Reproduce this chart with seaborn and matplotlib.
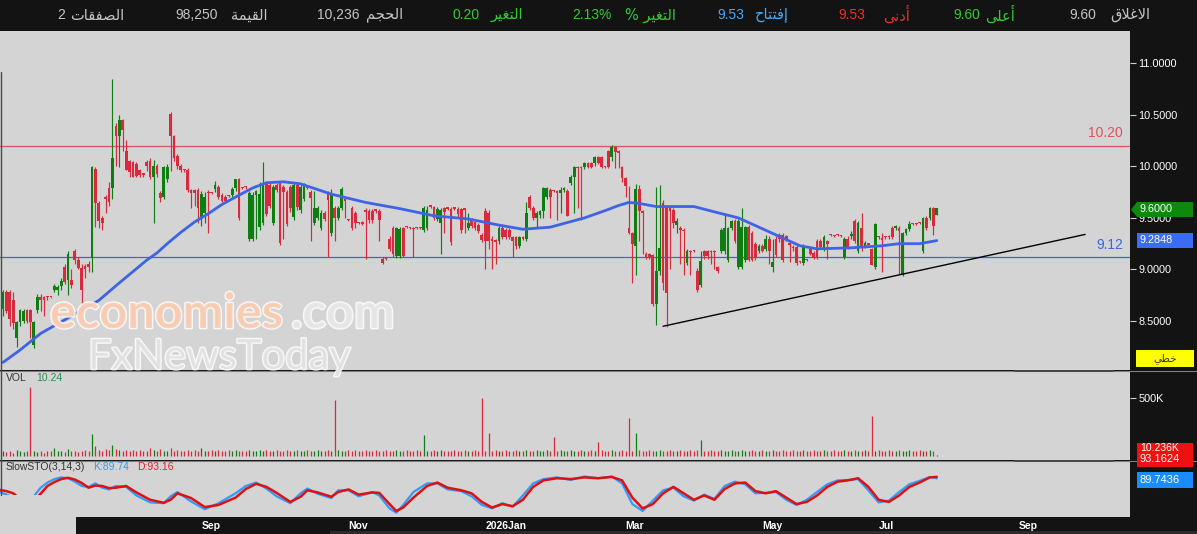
import numpy as np
import pandas as pd
import seaborn as sns
import matplotlib.pyplot as plt
import matplotlib.patheffects as pe
from matplotlib.patches import Rectangle, Polygon
from matplotlib.lines import Line2D

# daily candles (one per trading day, oldest first)
opens = [
    8.62, 8.78, 8.78, 8.70, 8.34, 8.49, 8.50, 8.61, 8.61, 8.27,
    8.61, 8.73, 8.73, 8.73, 8.73, 8.80, 8.80, 8.84, 9.02, 8.90,
    8.90, 9.18, 9.09, 9.01, 9.03, 9.05, 9.11, 9.97, 9.64, 9.50,
    9.70, 9.79, 9.79, 10.39, 10.29, 10.45, 10.15, 10.05, 10.04, 10.02,
    9.96, 9.92, 10.04, 10.05, 9.90, 10.00, 9.74, 9.70, 9.88, 10.51,
    10.29, 10.10, 10.00, 9.97, 9.96, 9.77, 9.77, 9.77, 9.50, 9.55,
    9.75, 9.74, 9.78, 9.80, 9.72, 9.70, 9.71, 9.72, 9.79, 9.88,
    9.79, 9.80, 9.30, 9.30, 9.72, 9.41, 9.45, 9.84, 9.82, 9.45,
    9.82, 9.84, 9.80, 9.75, 9.80, 9.51, 9.82, 9.58, 9.68, 9.79,
    9.75, 9.45, 9.50, 9.40, 9.55, 9.75, 9.35, 9.60, 9.50, 9.60,
    9.68, 9.48, 9.60, 9.55, 9.45, 9.46, 9.58, 9.57, 9.57, 9.57,
    9.57, 9.10, 9.10, 9.30, 9.40, 9.13, 9.13, 9.40, 9.41, 9.40,
    9.40, 9.40, 9.40, 9.38, 9.40, 9.61, 9.61, 9.49, 9.45, 9.60,
    9.59, 9.59, 9.59, 9.59, 9.59, 9.59, 9.40, 9.48, 9.46, 9.43,
    9.33, 9.57, 9.55, 9.30, 9.28, 9.28, 9.40, 9.38, 9.38, 9.31,
    9.31, 9.23, 9.31, 9.30, 9.70, 9.60, 9.50, 9.53, 9.57, 9.70,
    9.77, 9.76, 9.76, 9.74, 9.77, 9.76, 9.84, 9.90, 9.99, 9.99,
    9.99, 10.03, 10.03, 10.03, 10.09, 10.09, 9.99, 10.15, 10.09, 10.19,
    10.15, 9.99, 9.89, 9.40, 9.35, 9.23, 9.78, 9.57, 9.15, 9.15,
    9.14, 8.67, 8.99, 9.64, 9.60, 9.60, 9.58, 9.43, 9.40, 9.38,
    9.06, 9.18, 9.18, 8.99, 8.85, 9.18, 9.18, 9.18, 9.18, 9.02,
    9.18, 9.18, 9.09, 9.40, 9.47, 9.02, 9.02, 9.09, 9.41, 9.35,
    9.25, 9.18, 9.23, 9.20, 9.30, 9.02, 9.30, 9.33, 9.33, 9.32,
    9.25, 9.22, 9.22, 9.07, 9.06, 9.09, 9.20, 9.16, 9.28, 9.28,
    9.20, 9.28, 9.33, 9.32, 9.33, 9.32, 9.12, 9.30, 9.32, 9.47,
    9.18, 9.40, 9.23, 9.24, 9.20, 9.02, 9.31, 9.30, 9.31, 9.32,
    9.40, 9.40, 9.40, 8.96, 9.35, 9.39, 9.44, 9.44, 9.45, 9.18,
    9.50, 9.50, 9.60, 9.53,
]
highs = [
    8.80, 8.80, 8.80, 8.78, 8.50, 8.62, 8.62, 8.62, 8.62, 8.50,
    8.76, 8.76, 8.74, 8.74, 8.73, 8.86, 8.85, 8.92, 9.05, 9.18,
    9.00, 9.20, 9.12, 9.05, 9.05, 9.08, 10.00, 9.99, 9.66, 9.52,
    9.72, 9.85, 10.85, 10.42, 10.50, 10.46, 10.25, 10.06, 10.05, 10.04,
    9.97, 9.93, 10.06, 10.08, 10.06, 10.02, 9.76, 10.00, 10.02, 10.53,
    10.30, 10.12, 10.02, 9.97, 9.98, 9.78, 9.78, 9.79, 9.76, 9.75,
    9.77, 9.75, 9.86, 9.82, 9.74, 9.72, 9.72, 9.80, 9.88, 9.89,
    9.80, 9.81, 9.76, 9.75, 9.77, 9.85, 10.04, 9.86, 9.84, 9.82,
    9.84, 9.86, 9.82, 9.77, 9.82, 9.84, 9.84, 9.82, 9.84, 9.80,
    9.77, 9.76, 9.62, 9.58, 9.57, 9.76, 9.78, 9.62, 9.62, 9.80,
    9.70, 9.49, 9.62, 9.57, 9.46, 9.47, 9.60, 9.59, 9.59, 9.58,
    9.59, 9.12, 9.12, 9.32, 9.42, 9.41, 9.41, 9.41, 9.42, 9.41,
    9.41, 9.41, 9.41, 9.62, 9.62, 9.62, 9.62, 9.61, 9.60, 9.61,
    9.60, 9.61, 9.60, 9.61, 9.60, 9.60, 9.55, 9.50, 9.48, 9.45,
    9.35, 9.60, 9.58, 9.32, 9.30, 9.42, 9.42, 9.40, 9.40, 9.32,
    9.32, 9.32, 9.32, 9.65, 9.72, 9.62, 9.57, 9.58, 9.80, 9.80,
    9.79, 9.77, 9.77, 9.80, 9.80, 9.78, 9.92, 10.00, 10.00, 10.00,
    10.04, 10.04, 10.04, 10.10, 10.10, 10.10, 10.00, 10.16, 10.21, 10.20,
    10.16, 10.00, 9.90, 9.81, 9.36, 9.83, 9.82, 9.58, 9.17, 9.16,
    9.15, 9.80, 9.82, 9.67, 9.62, 9.62, 9.60, 9.50, 9.42, 9.40,
    9.20, 9.19, 9.19, 9.01, 9.18, 9.19, 9.19, 9.19, 9.19, 9.03,
    9.40, 9.55, 9.41, 9.48, 9.49, 9.49, 9.60, 9.42, 9.43, 9.37,
    9.27, 9.25, 9.25, 9.33, 9.32, 9.30, 9.32, 9.35, 9.35, 9.33,
    9.27, 9.24, 9.24, 9.08, 9.25, 9.10, 9.22, 9.18, 9.30, 9.30,
    9.33, 9.29, 9.34, 9.33, 9.34, 9.33, 9.31, 9.32, 9.37, 9.49,
    9.47, 9.55, 9.28, 9.25, 9.21, 9.45, 9.32, 9.35, 9.32, 9.33,
    9.42, 9.43, 9.42, 9.36, 9.40, 9.47, 9.45, 9.45, 9.46, 9.51,
    9.52, 9.61, 9.61, 9.60,
]
lows = [
    8.55, 8.58, 8.45, 8.42, 8.25, 8.45, 8.48, 8.48, 8.34, 8.24,
    8.58, 8.60, 8.55, 8.70, 8.72, 8.78, 8.75, 8.80, 8.86, 8.75,
    8.82, 9.05, 9.00, 8.67, 8.92, 8.98, 8.98, 9.41, 9.40, 9.38,
    9.55, 9.62, 9.68, 10.00, 9.99, 10.15, 9.96, 9.90, 9.90, 9.90,
    9.90, 9.90, 9.95, 9.88, 9.45, 9.90, 9.65, 9.68, 9.85, 9.95,
    10.05, 9.97, 9.94, 9.94, 9.75, 9.60, 9.62, 9.45, 9.42, 9.45,
    9.35, 9.73, 9.75, 9.68, 9.65, 9.64, 9.70, 9.70, 9.76, 9.48,
    9.78, 9.78, 9.28, 9.28, 9.30, 9.38, 9.43, 9.52, 9.60, 9.43,
    9.75, 9.24, 9.30, 9.42, 9.56, 9.48, 9.58, 9.55, 9.66, 9.78,
    9.28, 9.43, 9.48, 9.38, 9.47, 9.12, 9.32, 9.28, 9.48, 9.58,
    9.50, 9.47, 9.38, 9.40, 9.44, 9.43, 9.10, 9.45, 9.45, 9.55,
    9.28, 9.05, 9.09, 9.18, 9.12, 9.11, 9.11, 9.12, 9.40, 9.39,
    9.12, 9.39, 9.39, 9.36, 9.38, 9.60, 9.48, 9.47, 9.15, 9.35,
    9.58, 9.24, 9.58, 9.50, 9.35, 9.35, 9.38, 9.40, 9.38, 9.35,
    9.27, 9.00, 9.20, 9.00, 9.05, 9.25, 9.30, 9.30, 9.30, 9.12,
    9.20, 9.21, 9.29, 9.28, 9.58, 9.48, 9.40, 9.50, 9.50, 9.68,
    9.50, 9.75, 9.48, 9.55, 9.75, 9.52, 9.82, 9.55, 9.60, 9.48,
    9.97, 9.98, 9.98, 10.00, 10.02, 9.98, 9.98, 9.98, 10.05, 9.98,
    9.98, 9.85, 9.70, 9.34, 8.87, 8.95, 9.28, 9.15, 9.10, 9.10,
    8.65, 8.46, 8.95, 8.80, 8.44, 9.00, 9.40, 9.35, 9.05, 8.95,
    9.04, 8.95, 9.17, 8.78, 8.83, 9.10, 9.10, 9.05, 9.00, 8.97,
    9.16, 9.15, 9.07, 9.38, 9.26, 9.00, 9.00, 9.07, 9.08, 9.08,
    9.09, 9.16, 9.17, 9.18, 9.05, 8.98, 9.12, 9.27, 9.07, 9.28,
    9.07, 9.18, 9.04, 9.06, 9.04, 9.08, 9.14, 9.10, 9.10, 9.20,
    9.18, 9.10, 9.32, 9.31, 9.32, 9.31, 9.10, 9.20, 9.30, 9.26,
    9.16, 9.18, 9.21, 9.23, 9.04, 9.00, 9.30, 8.98, 9.30, 9.30,
    9.30, 9.38, 8.96, 8.94, 9.33, 9.37, 9.43, 9.43, 9.44, 9.16,
    9.38, 9.48, 9.33, 9.53,
]
closes = [
    8.78, 8.60, 8.52, 8.48, 8.49, 8.61, 8.60, 8.50, 8.49, 8.49,
    8.73, 8.70, 8.70, 8.73, 8.73, 8.84, 8.83, 8.89, 8.88, 9.15,
    8.85, 9.09, 9.01, 8.80, 9.00, 9.02, 9.99, 9.64, 9.47, 9.45,
    9.68, 9.65, 10.08, 10.29, 10.45, 10.35, 9.96, 9.94, 9.90, 9.91,
    9.92, 9.92, 10.00, 9.90, 10.00, 9.93, 9.69, 9.99, 9.99, 10.29,
    10.08, 10.00, 9.96, 9.96, 9.77, 9.74, 9.74, 9.60, 9.73, 9.70,
    9.74, 9.74, 9.82, 9.70, 9.66, 9.66, 9.71, 9.78, 9.88, 9.50,
    9.79, 9.80, 9.74, 9.72, 9.76, 9.73, 9.84, 9.54, 9.62, 9.80,
    9.77, 9.26, 9.75, 9.44, 9.60, 9.82, 9.61, 9.80, 9.82, 9.79,
    9.69, 9.60, 9.60, 9.55, 9.49, 9.67, 9.73, 9.50, 9.60, 9.78,
    9.66, 9.48, 9.40, 9.45, 9.45, 9.44, 9.56, 9.48, 9.48, 9.57,
    9.48, 9.06, 9.10, 9.20, 9.15, 9.40, 9.39, 9.13, 9.41, 9.40,
    9.39, 9.40, 9.40, 9.60, 9.58, 9.61, 9.50, 9.59, 9.58, 9.56,
    9.59, 9.27, 9.59, 9.54, 9.38, 9.58, 9.45, 9.42, 9.40, 9.37,
    9.29, 9.28, 9.28, 9.28, 9.27, 9.40, 9.31, 9.31, 9.31, 9.28,
    9.23, 9.31, 9.30, 9.55, 9.60, 9.50, 9.55, 9.57, 9.79, 9.79,
    9.70, 9.76, 9.74, 9.77, 9.79, 9.52, 9.90, 9.99, 9.98, 9.98,
    10.03, 9.99, 9.99, 10.09, 10.03, 9.99, 9.99, 9.99, 10.19, 10.14,
    10.13, 9.89, 9.81, 9.35, 9.25, 9.78, 9.57, 9.55, 9.12, 9.12,
    8.67, 8.99, 9.21, 8.87, 8.77, 9.57, 9.45, 9.47, 9.38, 9.37,
    9.18, 9.17, 9.18, 8.80, 9.08, 9.13, 9.13, 9.17, 9.17, 8.99,
    9.38, 9.40, 9.40, 9.47, 9.28, 9.47, 9.41, 9.41, 9.09, 9.09,
    9.12, 9.23, 9.18, 9.30, 9.18, 9.07, 9.14, 9.30, 9.09, 9.30,
    9.24, 9.21, 9.06, 9.07, 9.23, 9.09, 9.15, 9.11, 9.12, 9.22,
    9.31, 9.25, 9.33, 9.32, 9.33, 9.32, 9.30, 9.22, 9.34, 9.28,
    9.45, 9.22, 9.26, 9.24, 9.04, 9.44, 9.31, 9.29, 9.31, 9.31,
    9.31, 9.42, 9.37, 9.35, 9.39, 9.44, 9.44, 9.44, 9.45, 9.50,
    9.40, 9.60, 9.42, 9.60,
]
# volume in thousands of shares
volumes_k = [
    40, 35, 45, 30, 50, 40, 35, 45, 595, 40,
    35, 40, 30, 45, 40, 70, 40, 45, 35, 60,
    40, 45, 35, 40, 50, 45, 190, 85, 55, 45,
    60, 50, 95, 60, 55, 45, 50, 40, 55, 45,
    50, 40, 45, 70, 50, 40, 60, 45, 40, 70,
    45, 50, 40, 45, 55, 40, 50, 45, 70, 40,
    45, 50, 40, 55, 45, 40, 50, 45, 55, 40,
    45, 40, 50, 45, 40, 55, 45, 50, 40, 45,
    50, 45, 40, 55, 45, 40, 50, 45, 40, 55,
    45, 40, 50, 45, 40, 55, 45, 480, 50, 45,
    40, 50, 45, 55, 40, 45, 50, 40, 45, 55,
    40, 45, 50, 40, 45, 55, 40, 45, 50, 40,
    45, 50, 40, 180, 45, 40, 50, 45, 55, 40,
    45, 40, 50, 45, 40, 55, 45, 40, 50, 45,
    500, 45, 200, 40, 55, 45, 40, 50, 45, 40,
    55, 45, 40, 50, 45, 40, 55, 45, 40, 50,
    45, 160, 40, 55, 45, 40, 50, 45, 40, 55,
    45, 40, 50, 45, 120, 55, 40, 45, 50, 40,
    45, 55, 40, 330, 45, 200, 50, 40, 45, 55,
    40, 45, 50, 40, 45, 55, 40, 45, 50, 40,
    45, 50, 40, 55, 140, 40, 45, 50, 40, 45,
    55, 40, 45, 50, 40, 45, 55, 40, 45, 50,
    40, 45, 55, 40, 45, 50, 40, 45, 55, 40,
    45, 50, 40, 45, 55, 40, 45, 50, 40, 45,
    55, 40, 45, 50, 40, 45, 55, 40, 45, 50,
    40, 45, 55, 40, 345, 45, 50, 40, 45, 55,
    40, 45, 50, 40, 45, 55, 40, 45, 50, 40,
    45, 55, 40, 10,
]

# moving average (blue), read at these candle positions
ma_idx = [0, 5, 11, 19, 28, 34, 42, 45, 48, 52, 56, 60, 64, 69, 73, 77, 82, 87, 96, 106,
          116, 126, 136, 145, 152, 160, 170, 176, 180, 183, 186, 191, 202, 209, 215, 223,
          233, 238, 248, 257, 262, 268, 273]
ma_val = [8.10, 8.22, 8.38, 8.53, 8.70, 8.87, 9.09, 9.16, 9.25, 9.36, 9.46, 9.54, 9.63,
          9.72, 9.79, 9.84, 9.85, 9.83, 9.73, 9.65, 9.59, 9.52, 9.49, 9.43, 9.39, 9.41,
          9.50, 9.57, 9.62, 9.65, 9.64, 9.61, 9.61, 9.55, 9.50, 9.38, 9.23, 9.20, 9.21,
          9.23, 9.25, 9.25, 9.28]

# slow stochastic, read at these candle positions
sto_idx = [-1, 1, 3, 5, 7, 9, 11, 13, 15, 17, 19, 21, 23, 25, 27, 29, 31, 33, 36, 39,
           43, 47, 49, 51, 55, 59, 63, 68, 71, 74, 77, 80, 84, 87, 89, 92, 96, 98, 101,
           104, 108, 110, 113, 115, 117, 120, 124, 127, 130, 134, 137, 140, 143, 146,
           149, 152, 155, 158, 162, 166, 170, 174, 178, 181, 184, 187, 190, 193, 196,
           199, 202, 205, 208, 211, 214, 217, 220, 223, 226, 229, 232, 235, 238, 241,
           244, 247, 250, 253, 256, 259, 262, 265, 268, 271, 273]
sto_d = [63, 60, 55, 42, 32, 38, 54, 72, 81, 88, 91, 87, 79, 68, 73, 72, 67, 68, 72, 57,
         40, 33, 40, 55, 44, 23, 28, 45, 65, 77, 70, 56, 35, 47, 62, 57, 47, 58, 64,
         52, 57, 56, 30, 14, 22, 45, 72, 80, 68, 62, 55, 35, 22, 30,
         25, 40, 70, 85, 90, 88, 92, 90, 93, 85, 45, 20, 30, 55, 70,
         55, 40, 50, 40, 65, 78, 80, 60, 55, 60, 45, 30, 35, 50, 70,
         82, 85, 90, 70, 40, 35, 50, 70, 80, 92, 93.16]
sto_k = [58, 52, 45, 30, 28, 48, 68, 80, 88, 92, 90, 82, 72, 70, 78, 68, 64, 72, 70, 50,
         34, 32, 48, 58, 36, 18, 32, 55, 72, 80, 66, 48, 32, 55, 66, 54, 44, 62, 62,
         48, 58, 50, 20, 10, 28, 58, 78, 78, 64, 60, 48, 28, 20, 32,
         24, 50, 78, 88, 92, 86, 94, 90, 94, 78, 30, 14, 38, 62, 68,
         48, 38, 52, 42, 72, 82, 76, 55, 56, 58, 40, 28, 40, 58, 76,
         85, 86, 88, 62, 34, 38, 58, 76, 84, 93, 89.74]

month_pos = [58, 101, 141, 182, 222, 256, 297]
month_labels = ['Sep', 'Nov', '2026Jan', 'Mar', 'May', 'Jul', 'Sep']

resistance = 10.20
support = 9.12
trend_idx = [193, 316.4]
trend_val = [8.45, 9.34]

# header (Arabic words in shaped presentation forms, visual order)
hdr_names = ['\uFED5\uFEFC\uFECF\uFEFB\uFE8D',              # الاغلاق
             '\uFEF0\uFEE0\uFECB\uFE83',                    # أعلى
             '\uFEF0\uFEE7\uFEA9\uFE83',                    # أدنى
             '\uFEA1\uFE8E\uFE98\uFE98\uFED3\uFE87',        # إفتتاح
             '% \uFEAE\uFEF4\uFED0\uFE98\uFEDF\uFE8D',      # التغير %
             '\uFEAE\uFEF4\uFED0\uFE98\uFEDF\uFE8D',        # التغير
             '\uFEE2\uFEA0\uFEA4\uFEDF\uFE8D',              # الحجم
             '\uFE94\uFEE4\uFEF4\uFED8\uFEDF\uFE8D',        # القيمة
             '\uFE95\uFE8E\uFED8\uFED4\uFEBC\uFEDF\uFE8D']  # الصفقات
hdr_values = ['9.60', '9.60', '9.53', '9.53', '2.13%', '0.20', '10,236', '98,250', '2']
LINE_LABEL = '\uFEF2\uFEC4\uFEA7'  # خطي

sns.set_style('white')
plt.rcParams['font.family'] = ['Liberation Sans', 'DejaVu Sans']

W, H = 1197, 534
BG = '#d4d4d4'
DARK = '#131313'
UP = '#0e7d12'
DOWN = '#d82a3c'
GRAY_TXT = '#c4c4c4'
GREEN_TXT = '#35c935'
RED_TXT = '#e8302c'
BLUE_TXT = '#4aa8f0'

fig = plt.figure(figsize=(W / 100, H / 100), dpi=100, facecolor=DARK)


def rect(x0, y0, x1, y1):
    return [x0 / W, 1 - y1 / H, (x1 - x0) / W, (y1 - y0) / H]


def fx(x):
    return x / W


def fy(y):
    return 1 - y / H


ax_p = fig.add_axes(rect(0, 31, 1130, 370))
ax_v = fig.add_axes(rect(0, 371, 1130, 460))
ax_s = fig.add_axes(rect(0, 461, 1130, 517))
for ax in (ax_p, ax_v, ax_s):
    ax.set_facecolor(BG)
    ax.set_xlim(-0.88, 329.5)
    for s in ax.spines.values():
        s.set_visible(False)

df = pd.DataFrame({'o': opens, 'h': highs, 'l': lows, 'c': closes, 'v': volumes_k})
df['i'] = np.arange(len(df))
df['col'] = np.where(df['c'] > df['o'], UP, DOWN)
body_lo = np.minimum(df['o'], df['c'])
body_h = np.maximum((df['c'] - df['o']).abs(), 0.012)

# price panel
ax_p.axhline(resistance, color='#e0525c', lw=0.9, zorder=1)
ax_p.axhline(support, color='#3a66e0', lw=0.9, zorder=1)
ax_p.vlines(df['i'], df['l'], df['h'], colors=df['col'], lw=0.85, zorder=2)
ax_p.bar(df['i'], body_h, bottom=body_lo, width=0.8, color=df['col'], linewidth=0, zorder=3)
sns.lineplot(x=ma_idx, y=ma_val, ax=ax_p, color='#3f63e6', lw=2.0, zorder=4)
ax_p.plot(trend_idx, trend_val, color='black', lw=1.0, zorder=4)
ax_p.set_ylim(8.026, 11.311)
ax_p.set_xticks([])
ax_p.set_xlabel('')
ax_p.set_ylabel('')
ax_p.yaxis.tick_right()
ax_p.set_yticks([8.5, 9.0, 9.5, 10.0, 10.5, 11.0])
ax_p.set_yticklabels([f'{v:.4f}' for v in [8.5, 9.0, 9.5, 10.0, 10.5, 11.0]])
ax_p.tick_params(axis='y', colors='#cfcfcf', labelcolor='white', length=4.5, width=0.8,
                 labelsize=7.8, pad=1.5)
ax_p.annotate(f'{resistance:.2f}', xy=(1123 / 1130, resistance), xycoords=('axes fraction', 'data'),
              xytext=(0, 4), textcoords='offset points', ha='right', va='bottom',
              color='#e0525c', fontsize=10)
ax_p.annotate(f'{support:.2f}', xy=(1123 / 1130, support), xycoords=('axes fraction', 'data'),
              xytext=(0, 4), textcoords='offset points', ha='right', va='bottom',
              color='#3a66e0', fontsize=10)

# volume panel
ax_v.vlines(df['i'], 0, df['v'], colors=df['col'], lw=0.9)
ax_v.set_ylim(-34.5, 733)
ax_v.set_xticks([])
ax_v.yaxis.tick_right()
ax_v.set_yticks([500])
ax_v.set_yticklabels(['500K'])
ax_v.tick_params(axis='y', colors='#cfcfcf', labelcolor='white', length=4.5, width=0.8,
                 labelsize=7.8, pad=1.5)
ax_v.text(6 / 1130, 0.92, 'VOL', transform=ax_v.transAxes, fontsize=7.5, color='#333333', va='center')
ax_v.text(36 / 1130, 0.92, '10.24', transform=ax_v.transAxes, fontsize=7.5, color='#2e8b57', va='center')

# stochastic panel
sns.lineplot(x=sto_idx, y=sto_k, ax=ax_s, color='#2f9bff', lw=1.6)
sns.lineplot(x=sto_idx, y=sto_d, ax=ax_s, color='#dd1111', lw=1.8)
ax_s.set_ylim(0, 130)
ax_s.set_yticks([])
ax_s.set_xticks(month_pos)
ax_s.set_xticklabels(month_labels, ha='left')
ax_s.tick_params(axis='x', direction='in', length=5, color='#8a8a8a', labelcolor='white',
                 labelsize=7.5, pad=3)
for lab in ax_s.get_xticklabels():
    lab.set_fontweight('bold')
ax_s.set_xlabel('')
ax_s.set_ylabel('')
ax_s.text(6 / 1130, 0.9, 'SlowSTO(3,14,3)', transform=ax_s.transAxes, fontsize=7.5,
          color='#333333', va='center')
ax_s.text(93 / 1130, 0.9, 'K:89.74', transform=ax_s.transAxes, fontsize=7.5, color='#2f9bff', va='center')
ax_s.text(137 / 1130, 0.9, 'D:93.16', transform=ax_s.transAxes, fontsize=7.5, color='#dd2233', va='center')


# figure-level decorations
def frect(x0, y0, x1, y1, color, z=5):
    fig.add_artist(Rectangle((fx(x0), fy(y1)), (x1 - x0) / W, (y1 - y0) / H,
                             transform=fig.transFigure, facecolor=color, edgecolor='none', zorder=z))


def fline(x0, y0, x1, y1, color, lw=1.0, z=6):
    fig.add_artist(Line2D([fx(x0), fx(x1)], [fy(y0), fy(y1)], transform=fig.transFigure,
                          color=color, lw=lw, zorder=z))


frect(0, 495, 76, 534, BG, z=5)
frect(330, 531, 1197, 534, '#2c2c2c', z=5)
fline(0, 370.5, 1197, 370.5, '#808080', 0.8)
fline(0, 460.5, 1197, 460.5, '#808080', 0.8)
fline(1015, 370.5, 1113, 370.5, '#4a4a4a', 1.4)
fline(1015, 460.5, 1113, 460.5, '#4a4a4a', 1.4)
fline(0.5, 72, 0.5, 495, '#4a4a4a', 1.0)

# value boxes on the right axis
fig.add_artist(Polygon([(fx(1131), fy(209.5)), (fx(1137), fy(202)), (fx(1193), fy(202)),
                        (fx(1193), fy(217)), (fx(1137), fy(217))], closed=True,
                       transform=fig.transFigure, facecolor='#0b8a0b', edgecolor='none', zorder=7))
fig.text(fx(1139), fy(209.5), '9.6000', color='white', fontsize=7.8, va='center', zorder=8)
frect(1137, 233, 1193, 248, '#3a6cf4', z=7)
fig.text(fx(1140), fy(240.5), '9.2848', color='white', fontsize=7.8, va='center', zorder=8)
frect(1136, 350, 1194, 367, '#ffff00', z=7)
fig.text(fx(1165), fy(358.5), LINE_LABEL, color='#333333', fontsize=7.5, ha='center', va='center',
         family=['DejaVu Sans'], zorder=8)
frect(1137, 443, 1193, 452, '#ee1111', z=7)
fig.text(fx(1140), fy(448), '10.236K', color='white', fontsize=7.5, va='center', zorder=8)
frect(1137, 451, 1193, 467, '#ee1111', z=7)
fig.text(fx(1140), fy(459), '93.1624', color='white', fontsize=8, va='center', zorder=8)
frect(1137, 472, 1193, 488, '#1a8cff', z=7)
fig.text(fx(1140), fy(480), '89.7436', color='white', fontsize=8, va='center', zorder=8)

# header bar
hdr_name_x = [1130, 1000, 896, 772, 650, 507, 385, 249, 97]
hdr_val_x = [1083, 967, 852, 731, 592, 466, 338, 197, 61]
hdr_cols = [GRAY_TXT, GREEN_TXT, RED_TXT, BLUE_TXT, GREEN_TXT, GREEN_TXT, GRAY_TXT, GRAY_TXT, GRAY_TXT]
for name, val, xn, xv, col in zip(hdr_names, hdr_values, hdr_name_x, hdr_val_x, hdr_cols):
    fig.text(fx(xn), fy(15), name, color=col, fontsize=10.5, ha='center', va='center',
             family=['DejaVu Sans'])
    fig.text(fx(xv), fy(15), val, color=col, fontsize=10, ha='center', va='center')

# watermark
stroke = [pe.withStroke(linewidth=2.0, foreground='white')]
fig.text(fx(50), fy(328), 'economies', fontsize=35, fontweight='bold', family=['Lato'],
         color='#f7cbb0', alpha=0.85, path_effects=stroke, zorder=6)
fig.text(fx(291), fy(328), '.com', fontsize=35, fontweight='bold', family=['Lato'],
         color='#e6e6e6', alpha=0.85, path_effects=stroke, zorder=6)
fig.text(fx(88), fy(369), 'FxNewsToday', fontsize=30, family=['Lato'],
         color='#e0e0e0', alpha=0.85, path_effects=stroke, zorder=6)

fig.savefig('out.png', dpi=100, facecolor=DARK)
